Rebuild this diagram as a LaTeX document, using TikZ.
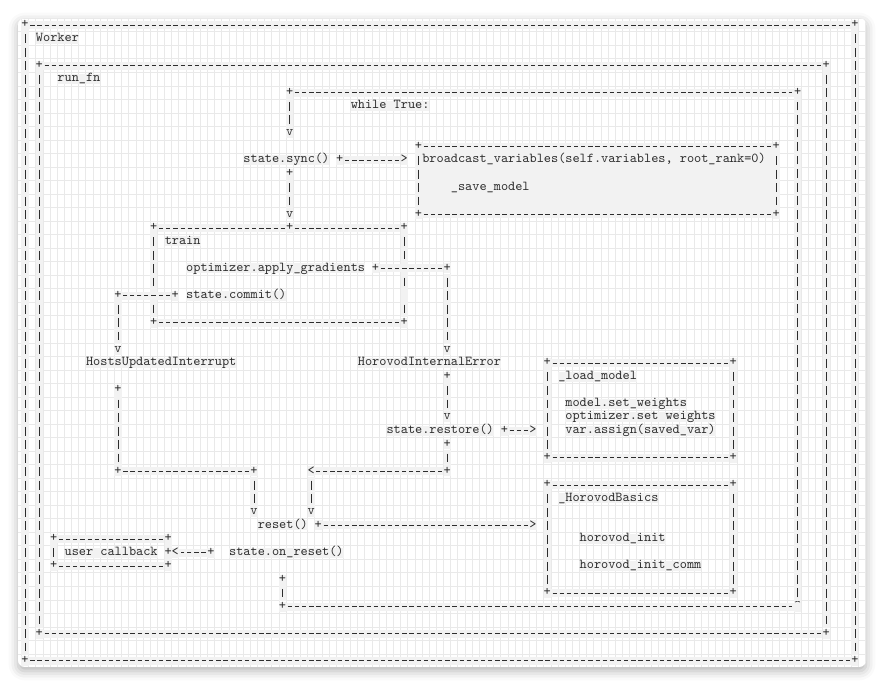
\documentclass[tikz,border=0pt]{standalone}
\usepackage{fontspec}
\usepackage{xcolor}
\usepackage{tikz}
\usetikzlibrary{shadows.blur}
\definecolor{asciiBg}{RGB}{242,242,242}
\definecolor{gridCol}{RGB}{233,233,233}
\definecolor{inkCol}{RGB}{45,45,45}
\newcommand{\asciifont}{\fontsize{10.22pt}{12pt}\selectfont\ttfamily}
\newcommand{\asciibox}[5]{%
  \node[glyph] (#1-nw) at (#2,#3) {+};
  \node[glyph] (#1-ne) at (#4,#3) {+};
  \node[glyph] (#1-sw) at (#2,#5) {+};
  \node[glyph] (#1-se) at (#4,#5) {+};
  \draw[hline] (#1-nw) -- (#1-ne);
  \draw[hline] (#1-sw) -- (#1-se);
  \draw[vline] (#1-nw) -- (#1-sw);
  \draw[vline] (#1-ne) -- (#1-se);
}

\begin{document}
\begin{tikzpicture}[
  x=5.3655pt, y=-10.1445pt,
  every node/.style={font=\asciifont, text=inkCol},
  txt/.style={anchor=west, inner sep=0pt, fill=asciiBg, text height=5.8pt, text depth=1.7pt},
  glyph/.style={inner sep=0pt, fill=asciiBg, minimum width=5.3655pt, minimum height=7.5pt, text height=5.8pt, text depth=1.7pt},
  hline/.style={draw=inkCol, line width=0.55pt, dash pattern=on 3.22pt off 2.146pt, shorten <=1.073pt, shorten >=1.073pt,
    preaction={draw=asciiBg, line width=6pt, solid, shorten <=0pt, shorten >=0pt}},
  vline/.style={draw=inkCol, line width=0.55pt, dash pattern=on 6.695pt off 3.449pt, shorten <=3.047pt, shorten >=3.047pt,
    preaction={draw=asciiBg, line width=5.3655pt, solid, shorten <=0pt, shorten >=0pt}},
  gridline/.style={draw=gridCol, line width=0.5pt}
]
  \useasboundingbox (-3.4946,-1.8483) rectangle (120.21,48.869);
  \fill[white, rounded corners=5pt, blur shadow={shadow xshift=0pt, shadow yshift=-3pt, shadow blur radius=7pt, shadow opacity=30}]
    (-0.978,-0.5175) rectangle (117.56,47.46);
  \begin{scope}
    \clip[rounded corners=5pt] (-0.978,-0.5175) rectangle (117.56,47.46);
    \foreach \c in {-0.5,0.5,...,117.5} \draw[gridline] (\c,-1) -- (\c,48);
    \foreach \r in {-0.5,0.5,...,46.5} \draw[gridline] (-1.5,\r) -- (118,\r);
  \end{scope}
  \fill[asciiBg] (55,9) rectangle (105,14);

  % boxes
  \asciibox{worker}{0}{0}{116}{47}
  \asciibox{runfn}{2}{3}{112}{45}
  \asciibox{bcast}{55}{9}{105}{14}
  \asciibox{loadM}{73}{25}{99}{32}
  \asciibox{basics}{73}{34}{99}{42}
  \asciibox{userCb}{4}{38}{20}{40}

  \node[glyph] (train-nw) at (18,15) {+};
  \node[glyph] (train-ne) at (53,15) {+};
  \node[glyph] (train-sw) at (18,22) {+};
  \node[glyph] (train-se) at (53,22) {+};
  \coordinate (trainGapL) at (18,20);
  \coordinate (trainGapR1) at (53,18);
  \coordinate (trainGapR2) at (53,20);
  \draw[hline] (train-nw) -- (train-ne);
  \draw[hline] (train-sw) -- (train-se);
  \draw[vline, shorten >=6.797pt] (train-nw) -- (trainGapL);
  \draw[vline, shorten <=6.797pt] (trainGapL) -- (train-sw);
  \draw[vline, shorten >=6.797pt] (train-ne) -- (trainGapR1);
  \draw[vline, shorten <=6.797pt, shorten >=6.797pt] (trainGapR1) -- (trainGapR2);
  \draw[vline, shorten <=6.797pt] (trainGapR2) -- (train-se);

  % texts
  \node[txt] (worker) at (1.5,1) {Worker};
  \node[txt] (runfn) at (4.5,4) {run\_fn};
  \node[txt] (whileTrue) at (45.5,6) {while True:};
  \node[txt] (sync) at (30.5,10) {state.sync()};
  \node[txt] (bcastCall) at (55.5,10) {broadcast\_variables(self.variables, root\_rank=0)};
  \node[txt] (saveModel) at (59.5,12) {\_save\_model};
  \node[txt] (train) at (19.5,16) {train};
  \node[txt] (applyGrad) at (22.5,18) {optimizer.apply\_gradients};
  \node[txt] (commit) at (22.5,20) {state.commit()};
  \node[txt] (hostsUpd) at (8.5,25) {HostsUpdatedInterrupt};
  \node[txt] (hvdErr) at (46.5,25) {HorovodInternalError};
  \node[txt] (loadModel) at (74.5,26) {\_load\_model};
  \node[txt] (setW) at (75.5,28) {model.set\_weights};
  \node[txt] (optSetW) at (75.5,29) {optimizer.set weights};
  \node[txt] (varAssign) at (75.5,30) {var.assign(saved\_var)};
  \node[txt] (restore) at (50.5,30) {state.restore()};
  \node[txt] (hvdBasics) at (74.5,35) {\_HorovodBasics};
  \node[txt] (reset) at (32.5,37) {reset()};
  \node[txt] (hvdInit) at (77.5,38) {horovod\_init};
  \node[txt] (userCb) at (5.5,39) {user callback};
  \node[txt] (onReset) at (28.5,39) {state.on\_reset()};
  \node[txt] (hvdInitComm) at (77.5,40) {horovod\_init\_comm};

  % connector ends and bends
  \node[glyph] (loopTL) at (37,5) {+};
  \node[glyph] (loopTR) at (108,5) {+};
  \node[glyph] (syncIn) at (37,8) {v};
  \node[glyph] (syncOut) at (44,10) {+};
  \node[glyph] (bcastIn) at (53,10) {>};
  \node[glyph] (syncDown) at (37,11) {+};
  \node[glyph] (trainIn) at (37,14) {v};
  \node[glyph] (gradOut) at (49,18) {+};
  \node[glyph] (gradTurn) at (59,18) {+};
  \node[glyph] (commitOut) at (21,20) {+};
  \node[glyph] (commitTurn) at (13,20) {+};
  \node[glyph] (hostsIn) at (13,24) {v};
  \node[glyph] (errIn) at (59,24) {v};
  \node[glyph] (errOut) at (59,26) {+};
  \node[glyph] (hostsOut) at (13,27) {+};
  \node[glyph] (restoreIn) at (59,29) {v};
  \node[glyph] (restoreOut) at (67,30) {+};
  \node[glyph] (loadIn) at (71,30) {>};
  \node[glyph] (restoreDown) at (59,31) {+};
  \node[glyph] (hostsTurn) at (13,33) {+};
  \node[glyph] (resetTurnL) at (32,33) {+};
  \node[glyph] (resetTurnR) at (40,33) {<};
  \node[glyph] (restoreTurn) at (59,33) {+};
  \node[glyph] (resetInL) at (32,36) {v};
  \node[glyph] (resetInR) at (40,36) {v};
  \node[glyph] (resetOut) at (41,37) {+};
  \node[glyph] (basicsIn) at (71,37) {>};
  \node[glyph] (cbIn) at (21,39) {<};
  \node[glyph] (onResetOut) at (26,39) {+};
  \node[glyph] (onResetDown) at (36,41) {+};
  \node[glyph] (loopBL) at (36,43) {+};
  \node[glyph] (loopUp) at (108,43) {\textasciicircum};

  \draw[vline] (loopTL) -- (syncIn);
  \draw[hline] (loopTL) -- (loopTR);
  \draw[vline] (loopUp) -- (loopTR);
  \draw[hline] (loopBL) -- (loopUp);
  \draw[vline] (onResetDown) -- (loopBL);
  \draw[hline] (syncOut) -- (bcastIn);
  \draw[vline] (syncDown) -- (trainIn);
  \draw[hline] (gradOut) -- (gradTurn);
  \draw[vline] (gradTurn) -- (errIn);
  \draw[hline] (commitOut) -- (commitTurn);
  \draw[vline] (commitTurn) -- (hostsIn);
  \draw[vline] (errOut) -- (restoreIn);
  \draw[hline] (restoreOut) -- (loadIn);
  \draw[vline] (restoreDown) -- (restoreTurn);
  \draw[hline] (restoreTurn) -- (resetTurnR);
  \draw[vline] (resetTurnR) -- (resetInR);
  \draw[vline] (hostsOut) -- (hostsTurn);
  \draw[hline] (hostsTurn) -- (resetTurnL);
  \draw[vline] (resetTurnL) -- (resetInL);
  \draw[hline] (resetOut) -- (basicsIn);
  \draw[hline] (onResetOut) -- (cbIn);

  \node[glyph] (trainTop) at (37,15) {+};
  \node[glyph] (cbEdge) at (20,39) {+};
\end{tikzpicture}
\end{document}
